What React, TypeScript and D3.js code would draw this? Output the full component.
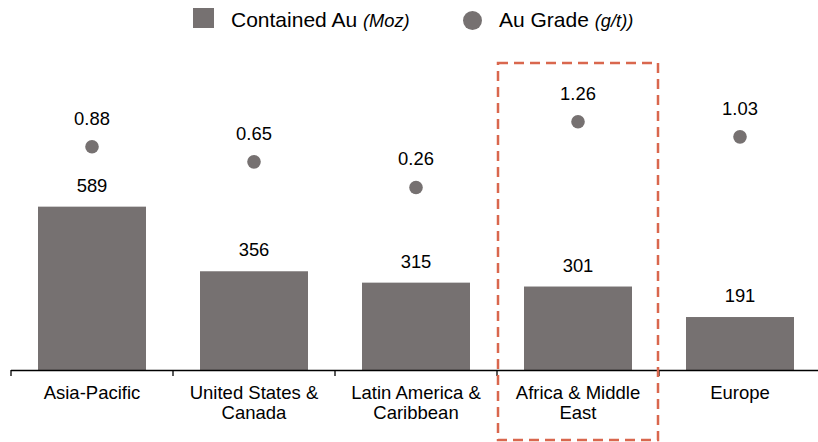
import React from "react";
import * as d3 from "d3";

const categories: string[][] = [
  ["Asia-Pacific"],
  ["United States &", "Canada"],
  ["Latin America &", "Caribbean"],
  ["Africa & Middle", "East"],
  ["Europe"],
];
const categoryKeys = ["Asia-Pacific", "United States & Canada", "Latin America & Caribbean", "Africa & Middle East", "Europe"];
const containedAu = [589, 356, 315, 301, 191];
const auGrade = [0.88, 0.65, 0.26, 1.26, 1.03];
const gradeLabels = ["0.88", "0.65", "0.26", "1.26", "1.03"];
const highlighted = "Africa & Middle East";

const W = 818;
const H = 442;
const FONT = "'Liberation Sans', Arial, sans-serif";
const BAR = "#767171";
const HL = "#D9674E";

export default function App() {
  const x = d3.scaleBand<string>().domain(categoryKeys).range([11, 821]).paddingInner(1 / 3).paddingOuter(1 / 6);
  const step = x.step();
  const yBar = d3.scaleLinear().domain([0, 600]).range([370, 203.6]);
  const yDot = d3.scaleLinear().domain([0, 1.5]).range([204.6, 105.9]);
  const baseY = yBar(0);

  const ticks = categoryKeys.map((k) => (x(k) as number) - step / 6);
  ticks.push(ticks[ticks.length - 1] + step);

  const hx = (x(highlighted) as number) - step / 6;

  return (
    <svg width={W} height={H} style={{ position: "absolute", left: 0, top: 0 }} fontFamily={FONT}>
      {/* legend */}
      <rect x={193} y={8} width={21} height={20} fill={BAR} />
      <text x={231} y={27} fontSize={21} fill="#000">
        Contained Au <tspan fontSize={18.3} fontStyle="italic">(Moz)</tspan>
      </text>
      <circle cx={472.5} cy={20.5} r={9.5} fill={BAR} />
      <text x={499} y={27} fontSize={21} fill="#000">
        Au Grade <tspan fontSize={18.3} fontStyle="italic">(g/t))</tspan>
      </text>

      {/* bars */}
      {categoryKeys.map((k, i) => {
        const bx = x(k) as number;
        const top = yBar(containedAu[i]);
        return (
          <g key={k}>
            <rect x={bx} y={top} width={x.bandwidth()} height={baseY - top} fill={BAR} />
            <text x={bx + x.bandwidth() / 2} y={top - 15} textAnchor="middle" fontSize={18.4} fill="#000">
              {containedAu[i]}
            </text>
            <circle cx={bx + x.bandwidth() / 2} cy={yDot(auGrade[i])} r={6.8} fill={BAR} />
            <text x={bx + x.bandwidth() / 2} y={yDot(auGrade[i]) - 22} textAnchor="middle" fontSize={18.4} fill="#000">
              {gradeLabels[i]}
            </text>
          </g>
        );
      })}

      {/* axis */}
      <line x1={11} x2={W} y1={baseY + 0.5} y2={baseY + 0.5} stroke="#000" strokeWidth={1.3} />
      {ticks.map((t, i) => (
        <line key={i} x1={t} x2={t} y1={baseY} y2={baseY + 6} stroke="#000" strokeWidth={1.3} />
      ))}
      {categories.map((lines, i) => {
        const cx = (x(categoryKeys[i]) as number) + x.bandwidth() / 2;
        return (
          <text key={i} x={cx} y={399} textAnchor="middle" fontSize={18.5} fill="#000">
            {lines.map((l, j) => (
              <tspan key={j} x={cx} dy={j === 0 ? 0 : 20}>
                {l}
              </tspan>
            ))}
          </text>
        );
      })}

      {/* highlight box */}
      <rect
        x={hx + 1}
        y={63}
        width={step - 2}
        height={377}
        fill="none"
        stroke={HL}
        strokeWidth={2.5}
        strokeDasharray="10 6"
      />
    </svg>
  );
}
